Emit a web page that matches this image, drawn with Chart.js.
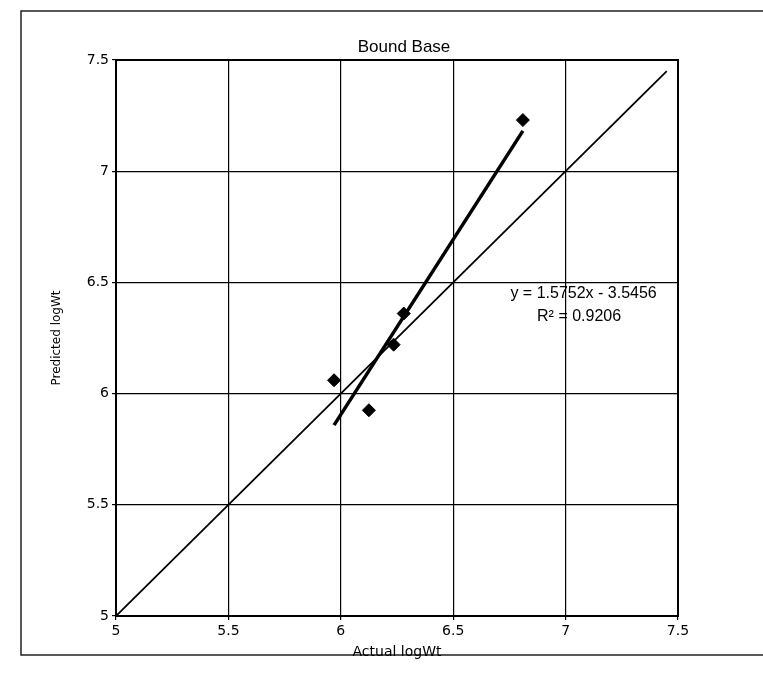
<!DOCTYPE html>
<html lang="en">
  <head>
    <script src="https://cdn.jsdelivr.net/npm/chart.js"></script>
    <style>
      html, body { margin: 0; padding: 0; background: #fff; }
      #wrap { width: 763px; height: 673px; }
    </style>
  </head>
  <body>
    <div id="wrap"><canvas id="myChart" width="763" height="673"></canvas></div>
    <script>
      // values
      const actualLogWt = [5.97, 6.125, 6.235, 6.28, 6.81];
      const predictedLogWt = [6.06, 5.925, 6.22, 6.36, 7.23];
      const identityLine = [5, 7.45];
      const trendSlope = 1.5752;
      const trendIntercept = -3.5456;
      const axisTicks = [5, 5.5, 6, 6.5, 7, 7.5];
      const titleText = "Bound Base";
      const equationLines = ["y = 1.5752x - 3.5456", "R² = 0.9206"];

      const points = actualLogWt.map((x, i) => ({ x: x, y: predictedLogWt[i] }));
      const xMin = Math.min(...actualLogWt);
      const xMax = Math.max(...actualLogWt);
      const trendPoints = [xMin, xMax].map((x) => ({ x: x, y: trendSlope * x + trendIntercept }));
      const identityPoints = identityLine.map((v) => ({ x: v, y: v }));

      const ink = "#000";

      const decorations = {
        id: "decorations",
        beforeDraw(chart) {
          const ctx = chart.ctx;
          ctx.save();
          ctx.fillStyle = "#fff";
          ctx.fillRect(0, 0, chart.width, chart.height);
          // outer chart frame (runs off the right edge in the scan)
          ctx.strokeStyle = "#222";
          ctx.lineWidth = 1.5;
          ctx.strokeRect(21, 11, chart.width, 644);
          ctx.restore();
        },
        afterDraw(chart) {
          const ctx = chart.ctx;
          const xs = chart.scales.x;
          const ys = chart.scales.y;
          const area = chart.chartArea;
          ctx.save();
          // plot border
          ctx.strokeStyle = ink;
          ctx.lineWidth = 2;
          ctx.strokeRect(area.left, area.top, area.right - area.left, area.bottom - area.top);
          // title
          ctx.fillStyle = ink;
          ctx.font = "17px 'Liberation Sans', Arial, sans-serif";
          ctx.textAlign = "center";
          ctx.textBaseline = "middle";
          ctx.fillText(titleText, (area.left + area.right) / 2 + 7, area.top - 13);
          // trendline equation
          ctx.font = "16px 'Liberation Sans', Arial, sans-serif";
          ctx.fillText(equationLines[0], xs.getPixelForValue(7.08), ys.getPixelForValue(6.45));
          ctx.fillText(equationLines[1], xs.getPixelForValue(7.06), ys.getPixelForValue(6.345));
          ctx.restore();
        },
      };

      const tickFont = { family: "'DejaVu Sans', Verdana, sans-serif", size: 14 };

      new Chart(document.getElementById("myChart").getContext("2d"), {
        type: "scatter",
        data: {
          datasets: [
            {
              label: "y = x",
              data: identityPoints,
              showLine: true,
              borderColor: ink,
              borderWidth: 1.8,
              pointRadius: 0,
              fill: false,
            },
            {
              label: "Linear trend",
              data: trendPoints,
              showLine: true,
              borderColor: ink,
              borderWidth: 3.5,
              pointRadius: 0,
              fill: false,
            },
            {
              label: "Predicted logWt",
              data: points,
              pointStyle: "rectRot",
              pointRadius: 6.5,
              backgroundColor: ink,
              borderColor: ink,
              borderWidth: 1,
              showLine: false,
            },
          ],
        },
        options: {
          responsive: false,
          animation: false,
          layout: { padding: { left: 0, top: 60, right: 85, bottom: 0 } },
          plugins: {
            legend: { display: false },
            tooltip: { enabled: false },
            title: { display: false },
          },
          scales: {
            x: {
              type: "linear",
              min: 5,
              max: 7.5,
              afterBuildTicks(scale) {
                scale.ticks = axisTicks.map((v) => ({ value: v }));
              },
              afterFit(scale) {
                scale.height = 57;
              },
              ticks: {
                color: ink,
                font: tickFont,
                padding: 3,
                maxRotation: 0,
                callback: (v) => String(v),
              },
              grid: { color: ink, lineWidth: 1.2, tickLength: 4, drawTicks: true },
              border: { display: false },
              title: {
                display: true,
                text: "Actual logWt",
                color: ink,
                font: { family: "'DejaVu Sans', Verdana, sans-serif", size: 14 },
                padding: { top: 0, bottom: 12 },
              },
            },
            y: {
              type: "linear",
              min: 5,
              max: 7.5,
              afterBuildTicks(scale) {
                scale.ticks = axisTicks.map((v) => ({ value: v }));
              },
              afterFit(scale) {
                scale.width = 116;
              },
              ticks: {
                color: ink,
                font: tickFont,
                padding: 3,
                callback: (v) => String(v),
              },
              grid: { color: ink, lineWidth: 1.2, tickLength: 4, drawTicks: true },
              border: { display: false },
              title: {
                display: true,
                text: "Predicted logWt",
                color: ink,
                font: { family: "'DejaVu Sans', Verdana, sans-serif", size: 12 },
                padding: { top: 50, bottom: 0 },
              },
            },
          },
        },
        plugins: [decorations],
      });
    </script>
  </body>
</html>
